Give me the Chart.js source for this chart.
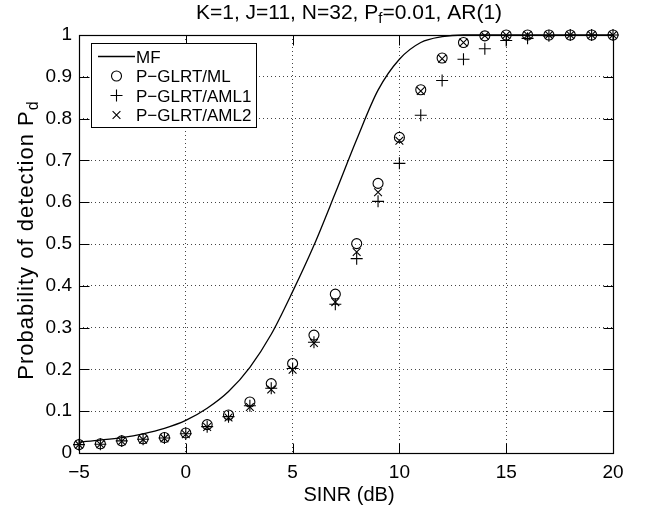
<!DOCTYPE html>
<html>
<head>
<meta charset="utf-8">
<script src="https://cdn.jsdelivr.net/npm/chart.js@4/dist/chart.umd.min.js"></script>
<style>
html,body{margin:0;padding:0;background:#fff;}
#wrap{width:649px;height:512px;}
</style>
</head>
<body>
<div id="wrap"><canvas id="c" width="649" height="512"></canvas></div>
<script>
// ---- data ----
const sinrDb = [-5,-4,-3,-2,-1,0,1,2,3,4,5,6,7,8,9,10,11,12,13,14,15,16,17,18,19,20];
const mfPd   = [0.026,0.031,0.037,0.046,0.059,0.078,0.107,0.147,0.205,0.284,0.386,0.497,0.622,0.750,0.868,0.942,0.982,0.996,1.0,1.0,1.0,1.0,1.0,1.0,1.0,1.0];
const mlPd   = [0.020,0.022,0.029,0.034,0.037,0.048,0.068,0.091,0.122,0.166,0.214,0.282,0.380,0.501,0.645,0.755,0.869,0.945,0.982,0.998,1.0,1.0,1.0,1.0,1.0,1.0];
const aml1Pd = [0.020,0.021,0.029,0.033,0.036,0.046,0.063,0.087,0.113,0.155,0.202,0.265,0.356,0.465,0.602,0.693,0.808,0.891,0.942,0.967,0.987,0.992,0.998,1.0,1.0,1.0];
const aml2Pd = [0.020,0.021,0.028,0.032,0.035,0.045,0.062,0.085,0.110,0.152,0.199,0.263,0.361,0.481,0.624,0.747,0.866,0.943,0.982,0.998,1.0,1.0,1.0,1.0,1.0,1.0];
const xTickValues = [-5,0,5,10,15,20];
const yTickValues = [0,0.1,0.2,0.3,0.4,0.5,0.6,0.7,0.8,0.9,1];
const seriesLabels = ["MF","P\u2212GLRT/ML","P\u2212GLRT/AML1","P\u2212GLRT/AML2"];
const titleParts = ["K=1, J=11, N=32, P","f","=0.01, AR(1)"];
const yTitleParts = ["Probability of detection P","d"];
const xTitle = "SINR (dB)";

const FONT = '"Liberation Sans", Arial, Helvetica, sans-serif';
const pts = arr => sinrDb.map((x,i)=>({x:x, y:arr[i]}));

function drawMarker(ctx, style, x, y, r){
  ctx.beginPath();
  if(style==='circle'){ ctx.arc(x,y,r,0,Math.PI*2); }
  else if(style==='cross'){ ctx.moveTo(x-r,y); ctx.lineTo(x+r,y); ctx.moveTo(x,y-r); ctx.lineTo(x,y+r); }
  else { const d=r*Math.SQRT1_2; ctx.moveTo(x-d,y-d); ctx.lineTo(x+d,y+d); ctx.moveTo(x-d,y+d); ctx.lineTo(x+d,y-d); }
  ctx.stroke();
}

function drawSub(ctx, parts, size, x, y, align, spacing){
  const subSize = Math.round(size*0.72);
  if('letterSpacing' in ctx) ctx.letterSpacing = (spacing||0)+'px';
  ctx.font = size+'px '+FONT;
  const w0 = ctx.measureText(parts[0]).width;
  const w2 = parts[2] ? ctx.measureText(parts[2]).width : 0;
  ctx.font = subSize+'px '+FONT;
  const w1 = ctx.measureText(parts[1]).width;
  const total = w0+w1+w2;
  let sx = align==='center' ? x-total/2 : x;
  ctx.textAlign='left'; ctx.textBaseline='alphabetic';
  ctx.font = size+'px '+FONT; ctx.fillText(parts[0], sx, y);
  ctx.font = subSize+'px '+FONT; ctx.fillText(parts[1], sx+w0, y+size*0.22);
  if(parts[2]){ ctx.font = size+'px '+FONT; ctx.fillText(parts[2], sx+w0+w1, y); }
  if('letterSpacing' in ctx) ctx.letterSpacing = '0px';
}

const deco = {
  id:'deco',
  afterDatasetsDraw(chart){
    const {ctx, chartArea:a, scales:{x,y}} = chart;
    ctx.save();
    ctx.strokeStyle='#000'; ctx.lineWidth=1; ctx.setLineDash([]);
    const L=10;
    const l=Math.round(a.left)+0.5, r=Math.round(a.right)+0.5, t=Math.round(a.top)+0.5, b=Math.round(a.bottom)+0.5;
    ctx.beginPath();
    xTickValues.forEach(v=>{const px=Math.round(x.getPixelForValue(v))+0.5; ctx.moveTo(px,b); ctx.lineTo(px,b-L); ctx.moveTo(px,t); ctx.lineTo(px,t+L);});
    yTickValues.forEach(v=>{const py=Math.round(y.getPixelForValue(v))+0.5; ctx.moveTo(l,py); ctx.lineTo(l+L,py); ctx.moveTo(r,py); ctx.lineTo(r-L,py);});
    ctx.stroke();
    ctx.lineWidth=1.2;
    ctx.strokeRect(l,t,r-l,b-t);
    ctx.restore();
  },
  afterDraw(chart){
    const {ctx} = chart;
    ctx.save();
    ctx.fillStyle='#000'; ctx.strokeStyle='#000';
    // title
    drawSub(ctx, titleParts, 21, 349, 18.5, 'center', 0);
    // x title
    ctx.font='20px '+FONT; ctx.textAlign='center'; ctx.textBaseline='alphabetic';
    ctx.fillText(xTitle, 349, 501);
    // y title
    ctx.save();
    ctx.translate(33, 240);
    ctx.rotate(-Math.PI/2);
    drawSub(ctx, yTitleParts, 22, 0, 0, 'center', 1);
    ctx.restore();
    // legend
    const bx=91.5, by=43.5, bw=165, bh=84;
    ctx.fillStyle='#fff'; ctx.fillRect(bx,by,bw,bh);
    ctx.lineWidth=1; ctx.strokeStyle='#000'; ctx.strokeRect(bx,by,bw,bh);
    const rows=[56.5,76,95.5,115];
    const styles=['line','circle','cross','crossRot'];
    const radii=[0,5,6,5.5];
    ctx.font='17px '+FONT; ctx.textAlign='left'; ctx.textBaseline='alphabetic'; ctx.fillStyle='#000';
    rows.forEach((ry,i)=>{
      if(styles[i]==='line'){
        ctx.lineWidth=1.3; ctx.beginPath(); ctx.moveTo(98,ry); ctx.lineTo(135,ry); ctx.stroke();
      } else {
        ctx.lineWidth=1.1; drawMarker(ctx, styles[i], 116.5, ry, radii[i]);
      }
      ctx.fillText(seriesLabels[i], 136, ry+6);
    });
    ctx.restore();
  }
};

new Chart(document.getElementById('c'), {
  type:'scatter',
  data:{
    datasets:[
      {label:seriesLabels[0], data:pts(mfPd), showLine:true, borderColor:'#000', borderWidth:1.3, pointRadius:0, cubicInterpolationMode:'monotone', fill:false, clip:false},
      {label:seriesLabels[1], data:pts(mlPd), showLine:false, pointStyle:'circle', pointRadius:5, borderColor:'#000', backgroundColor:'rgba(0,0,0,0)', pointBorderWidth:1.1, clip:false},
      {label:seriesLabels[2], data:pts(aml1Pd), showLine:false, pointStyle:'cross', pointRadius:6, borderColor:'#000', backgroundColor:'rgba(0,0,0,0)', pointBorderWidth:1.1, clip:false},
      {label:seriesLabels[3], data:pts(aml2Pd), showLine:false, pointStyle:'crossRot', pointRadius:5.5, borderColor:'#000', backgroundColor:'rgba(0,0,0,0)', pointBorderWidth:1.1, clip:false}
    ]
  },
  options:{
    responsive:false, animation:false, devicePixelRatio:1,
    layout:{padding:{top:35,right:36,left:0,bottom:0}},
    plugins:{legend:{display:false}, title:{display:false}, tooltip:{enabled:false}},
    elements:{point:{hoverRadius:5}},
    scales:{
      x:{type:'linear', min:-5, max:20,
        afterBuildTicks:s=>{s.ticks=xTickValues.map(v=>({value:v}));},
        afterFit:s=>{s.height=59;},
        ticks:{color:'#000', font:{family:FONT,size:19}, padding:8, maxRotation:0,
          callback:v=> v<0 ? '\u2212'+Math.abs(v) : String(v)},
        grid:{color:'#444', lineWidth:1, drawTicks:false},
        border:{display:false, dash:[1,3]}
      },
      y:{type:'linear', min:0, max:1,
        afterBuildTicks:s=>{s.ticks=yTickValues.map(v=>({value:v}));},
        afterFit:s=>{s.width=79;},
        ticks:{color:'#000', font:{family:FONT,size:19}, padding:7,
          callback:v=> String(parseFloat(Number(v).toFixed(1)))},
        grid:{color:'#444', lineWidth:1, drawTicks:false},
        border:{display:false, dash:[1,3]}
      }
    }
  },
  plugins:[deco]
});
</script>
</body>
</html>
